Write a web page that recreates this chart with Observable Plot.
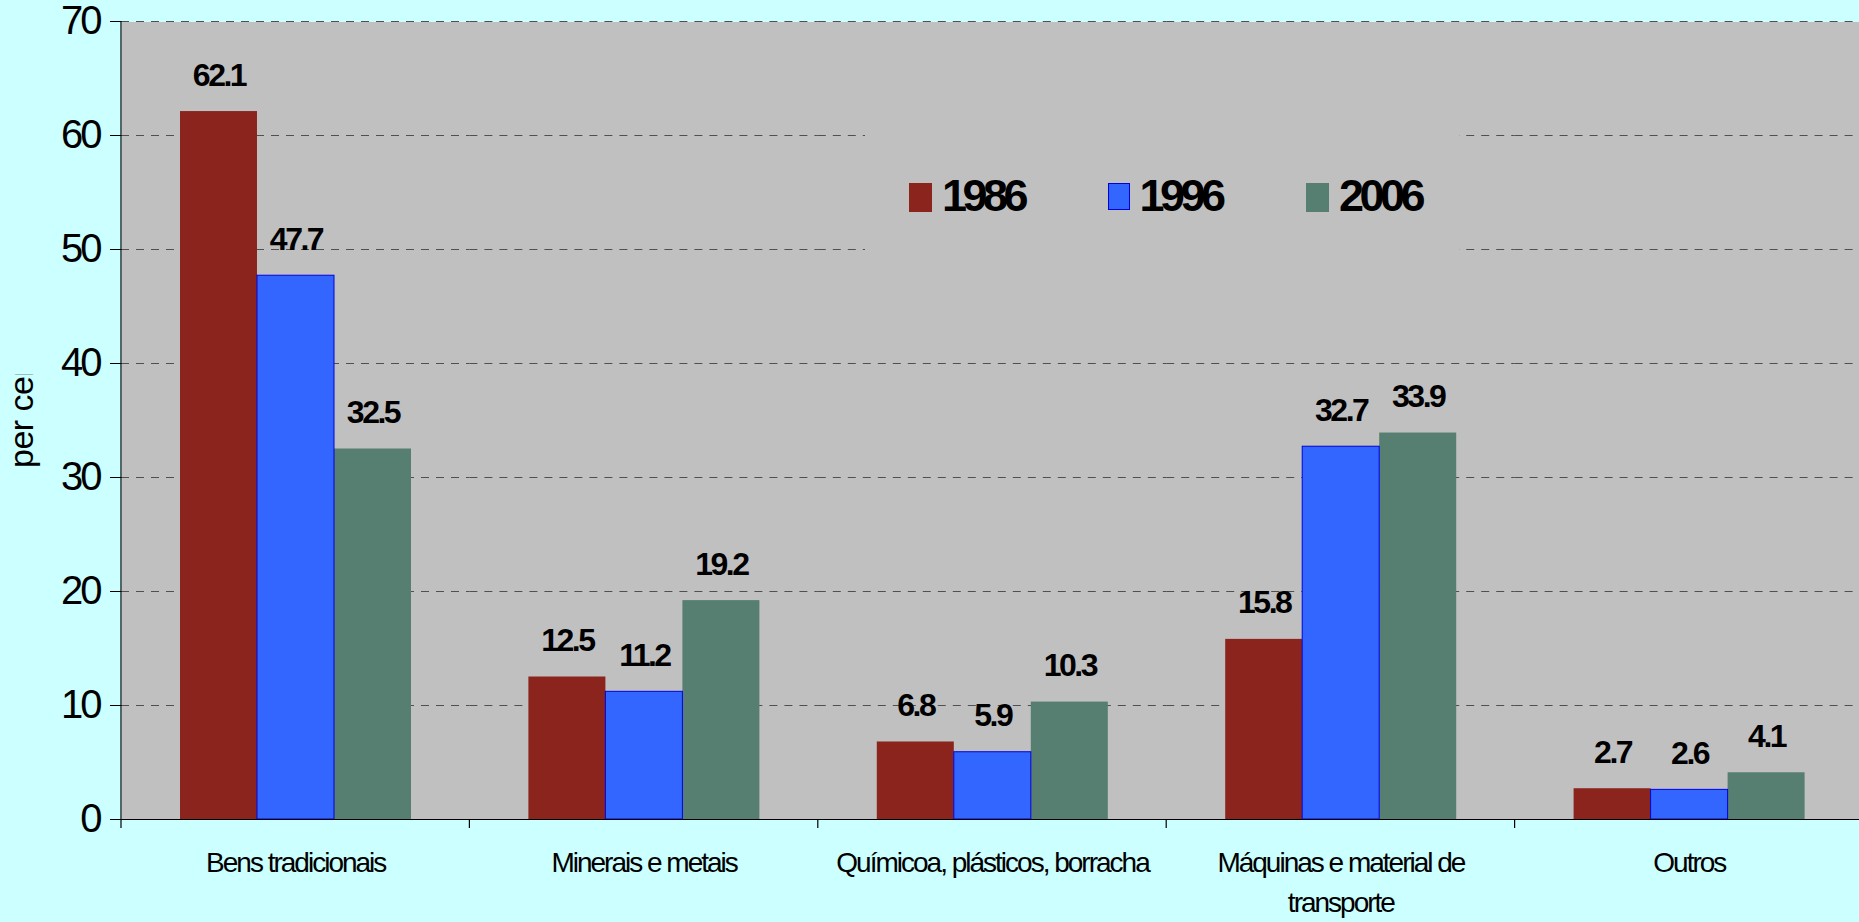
<!DOCTYPE html>
<html>
<head>
<meta charset="utf-8">
<script src="https://cdn.jsdelivr.net/npm/d3@7"></script>
<script src="https://cdn.jsdelivr.net/npm/@observablehq/plot@0.6"></script>
<style>
html, body { margin: 0; padding: 0; background: #ccffff; overflow: hidden; }
#wrap { position: relative; width: 1859px; height: 922px; overflow: hidden; background: #ccffff; }
#chart { width: 1870px; }
#chart svg { display: block; max-width: none !important; }
#legend { position: absolute; left: 865px; top: 112px; width: 594px; height: 156px; background: #c0c0c0; }
#legend .item { position: absolute; top: 61px; display: flex; align-items: flex-start; }
#legend .sw { width: 23px; height: 29px; margin-top: 10px; box-sizing: border-box; }
#legend .lab { margin-left: 10px; font: bold 45px "Liberation Sans", Arial, sans-serif; line-height: 45px; letter-spacing: -4.5px; color: #000; }
#ylab-clip { position: absolute; left: 0; top: 374px; width: 60px; height: 130px; overflow: hidden; }
#ylab { position: absolute; left: 4px; top: 94px; transform-origin: 0 0; transform: rotate(-90deg); font: 34px "Liberation Sans", Arial, sans-serif; line-height: 34px; white-space: nowrap; color: #000; letter-spacing: -0.5px; }
</style>
</head>
<body>
<div id="wrap">
  <div id="chart"></div>
  <div id="legend"></div>
  <div id="ylab-clip"><span id="ylab">per cent</span></div>
</div>
<script>
// ---- data ----
const categories = ["Bens tradicionais", "Minerais e metais", "Químicoa, plásticos, borracha", "Máquinas e material de transporte", "Outros"];
const categoryLabels = ["Bens tradicionais", "Minerais e metais", "Químicoa, plásticos, borracha", "Máquinas e material de\ntransporte", "Outros"];
const years = ["1986", "1996", "2006"];
const values1986 = [62.1, 12.5, 6.8, 15.8, 2.7];
const values1996 = [47.7, 11.2, 5.9, 32.7, 2.6];
const values2006 = [32.5, 19.2, 10.3, 33.9, 4.1];
const yTicks = [0, 10, 20, 30, 40, 50, 60, 70];
const colors = ["#8b241d", "#3366ff", "#567e71"];

const seriesValues = [values1986, values1996, values2006];
const data = categories.flatMap((c, i) => years.map((yr, k) => ({cat: c, year: yr, value: seriesValues[k][i]})));
const labelOf = new Map(categories.map((c, i) => [c, categoryLabels[i]]));

const plot = Plot.plot({
  width: 1870,
  height: 922,
  marginLeft: 121,
  marginRight: 7,
  marginTop: 21,
  marginBottom: 103,
  style: {background: "transparent", fontFamily: "'Liberation Sans', Arial, sans-serif", color: "#000", overflow: "visible", maxWidth: "none"},
  fx: {domain: categories, padding: 0, range: [121, 1863], round: false, label: null, axis: null},
  x: {domain: years, paddingInner: 0, paddingOuter: 0.76, axis: null},
  y: {domain: [0, 70], range: [819, 21], label: null, axis: null},
  color: {domain: years, range: colors},
  marks: [
    Plot.frame({fill: "#c0c0c0", stroke: null, shapeRendering: "crispEdges"}),
    Plot.gridY(yTicks, {stroke: "#505050", strokeOpacity: 1, strokeWidth: 1.2, strokeDasharray: "8,7"}),
    Plot.barY(data, {filter: d => d.year !== "1996", fx: "cat", x: "year", y: "value", fill: "year"}),
    Plot.barY(data, {filter: d => d.year === "1996", fx: "cat", x: "year", y: "value", fill: "year", stroke: "#0000e0", strokeWidth: 1}),
    Plot.text(data, {fx: "cat", x: "year", y: "value", text: d => d.value.toFixed(1), dy: -26, lineAnchor: "bottom", fontSize: 32, fontWeight: "bold", fill: "#000"}),
    Plot.ruleY([0], {stroke: "#000"}),
    Plot.axisY(yTicks, {tickSize: 11, tickPadding: 11, fontSize: 40, label: null, stroke: "#000"}),
    Plot.axisFx({anchor: "bottom", tickSize: 0, tickPadding: 23, fontSize: 28, lineHeight: 1.46, label: null, tickFormat: d => labelOf.get(d)})
  ]
});

plot.style.maxWidth = "none";
document.getElementById("chart").appendChild(plot);

// letter spacing to mimic the condensed original type
const s = d3.select(plot);
s.selectAll('g[aria-label="y-axis tick label"]').attr("letter-spacing", "-3px");
s.selectAll('g[aria-label="fx-axis tick label"]').attr("letter-spacing", "-2px");
s.selectAll('g[aria-label="text"]').attr("letter-spacing", "-2.5px");

// y-axis line and category-boundary ticks from Plot's own scales
const fxs = plot.scale("fx"), ys = plot.scale("y");
const y0 = ys.apply(0), yTop = ys.apply(70);
const bounds = categories.map(c => fxs.apply(c)).concat([fxs.apply(categories[categories.length - 1]) + fxs.bandwidth]);
const g = s.append("g").attr("stroke", "#000").attr("stroke-width", 1.2);
g.append("line").attr("x1", bounds[0]).attr("x2", bounds[0]).attr("y1", yTop).attr("y2", y0);
g.selectAll("line.bt").data(bounds).join("line").attr("class", "bt")
  .attr("x1", d => d).attr("x2", d => d).attr("y1", y0).attr("y2", y0 + 9);

// legend
const leg = document.getElementById("legend");
years.forEach((yr, k) => {
  const it = document.createElement("div");
  it.className = "item";
  it.style.left = (44 + k * 198.5) + "px";
  const sw = document.createElement("div");
  sw.className = "sw";
  sw.style.background = colors[k];
  if (yr === "1996") { sw.style.border = "1.5px solid #0000e0"; sw.style.width = "22px"; sw.style.height = "27px"; }
  const lab = document.createElement("div");
  lab.className = "lab";
  lab.textContent = yr;
  it.appendChild(sw); it.appendChild(lab);
  leg.appendChild(it);
});
</script>
</body>
</html>
